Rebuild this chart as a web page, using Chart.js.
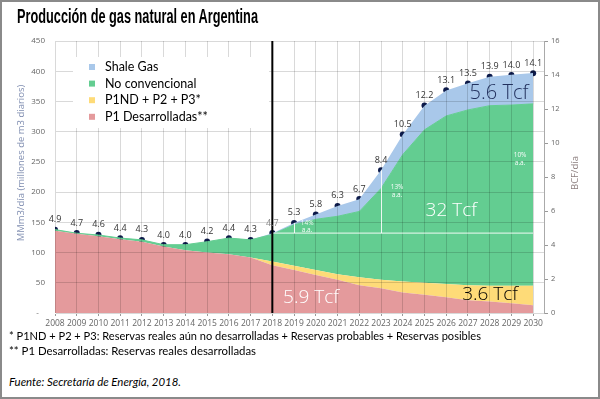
<!DOCTYPE html>
<html>
<head>
<meta charset="utf-8">
<script src="https://cdn.jsdelivr.net/npm/chart.js@4.4.0/dist/chart.umd.min.js"></script>
<style>
body{margin:0;background:#fff}
#pagina{position:relative;width:600px;height:399px;overflow:hidden;background:#fff}
#marco{position:absolute;left:0;top:0;width:600px;height:399px;box-sizing:border-box;border:2px solid #8a8a8a;pointer-events:none}
#titulo{position:absolute;left:17px;top:6px;font:bold 20px 'Liberation Sans', Arial, sans-serif;line-height:20px;white-space:nowrap;transform-origin:0 0;color:#000}
#grafico{position:absolute;left:0;top:0}
.nota{position:absolute;left:9px;font:11.5px Lato;line-height:14px;white-space:nowrap;transform-origin:0 0;color:#000}
</style>
</head>
<body>
<div id="pagina">
  <canvas id="grafico" width="600" height="335"></canvas>
  <div id="titulo" data-ancho="241">Producción de gas natural en Argentina</div>
  <div class="nota" style="top:329px" data-ancho="472">* P1ND + P2 + P3: Reservas reales aún no desarrolladas + Reservas probables + Reservas posibles</div>
  <div class="nota" style="top:344px" data-ancho="247">** P1 Desarrolladas: Reservas reales desarrolladas</div>
  <div class="nota" style="top:375px;font-style:italic" data-ancho="172">Fuente: Secretaría de Energía, 2018.</div>
  <div id="marco"></div>
</div>
<script>
const anios = [2008,2009,2010,2011,2012,2013,2014,2015,2016,2017,2018,2019,2020,2021,2022,2023,2024,2025,2026,2027,2028,2029,2030]
// MMm3/dia, apilados
const p1Desarrolladas = [136,131,127,122,118,110,104,100,97,92,79,71,63,55,46,41,34,30,26,21,19,16,13]
const p1ndP2P3 = [0,0,0,0,0,0,0,0,0,0,6,7,8,9,13,14,18,20,22,25,26,29,32]
const noConvencional = [2,1,2,2,3,3,9,18,27,29,45,68,84,96,109,151,210,253,278,290,298,299,301]
const shaleGas = [0,0,0,0,0,0,0,0,0,0,2,3,8,17,20,30,33,40,42,44,48,50,51]
// BCF/dia (puntos)
const totalBcf = [4.9,4.7,4.6,4.4,4.3,4.0,4.0,4.2,4.4,4.3,4.7,5.3,5.8,6.3,6.7,8.4,10.5,12.2,13.1,13.5,13.9,14.0,14.1]

const rojo = '#e49a9c'
const amarillo = '#fedb78'
const verde = '#63cd91'
const azul = '#a9c8ea'

const pares = arr => arr.map((v, i) => ({x: anios[i], y: v}))

const anotaciones = {
  id: 'anotaciones',
  afterDraw(chart) {
    const {ctx, chartArea: ca} = chart
    const x = chart.scales.x, y = chart.scales.y, y2 = chart.scales.y2
    ctx.save()

    // caja blanca de la leyenda
    ctx.fillStyle = '#fff'
    ctx.fillRect(73, 57, 196, 71)
    const items = chart.data.datasets.slice(0, 4).reverse()
    ctx.font = '12.5px Lato'
    ctx.textBaseline = 'middle'
    items.forEach((ds, i) => {
      const yc = 67 + i * 16.6
      ctx.fillStyle = ds.backgroundColor
      ctx.fillRect(89, yc - 3, 6, 6)
      ctx.fillStyle = '#000'
      ctx.fillText(ds.label, 105, yc)
    })

    // lineas blancas de referencia
    const i18 = anios.indexOf(2018)
    const base = y2.getPixelForValue(totalBcf[i18])
    ctx.strokeStyle = 'rgba(255,255,255,0.9)'
    ctx.lineWidth = 1
    ctx.beginPath()
    ctx.moveTo(x.getPixelForValue(2018), base)
    ctx.lineTo(x.getPixelForValue(2030), base)
    ;[2019, 2023].forEach(a => {
      const px = Math.round(x.getPixelForValue(a)) + 0.5
      ctx.moveTo(px, base)
      ctx.lineTo(px, y2.getPixelForValue(totalBcf[anios.indexOf(a)]))
    })
    ctx.stroke()

    // linea negra 2018
    const x18 = x.getPixelForValue(2018)
    ctx.strokeStyle = '#000'
    ctx.lineWidth = 2
    ctx.beginPath()
    ctx.moveTo(x18, ca.top)
    ctx.lineTo(x18, ca.bottom)
    ctx.stroke()

    // etiquetas de los puntos
    ctx.font = '9px "Open Sans"'
    ctx.textAlign = 'center'
    ctx.textBaseline = 'middle'
    totalBcf.forEach((v, i) => {
      ctx.fillStyle = anios[i] === 2018 ? '#8a8a8a' : '#333'
      ctx.fillText(v.toFixed(1), x.getPixelForValue(anios[i]), y2.getPixelForValue(v) - 10)
    })

    // textos Tcf
    const texto = (t, a, v, color, size, peso) => {
      ctx.font = (peso || 300) + ' ' + size + 'px "Open Sans"'
      ctx.fillStyle = color
      ctx.fillText(t, x.getPixelForValue(a), y.getPixelForValue(v))
    }
    texto('5.6 Tcf', 2028.43, 364, '#22315e', 20)
    texto('32 Tcf', 2026.23, 170, '#fff', 19)
    texto('3.6 Tcf', 2028.02, 31, '#000', 19)
    texto('5.9 Tcf', 2019.78, 25, '#fff', 19)
    const tasa = (t, a, v) => {
      texto(t, a, v, 'rgba(255,255,255,0.95)', 6.5, 400)
      texto('a.a.', a, v - 12.5, 'rgba(255,255,255,0.95)', 6.5, 400)
    }
    tasa('14%', 2019.6, 149)
    tasa('13%', 2023.74, 208)
    tasa('10%', 2029.4, 261)

    // titulos de ejes
    ctx.font = '9.5px "Open Sans"'
    ctx.fillStyle = '#7f8db0'
    ctx.translate(21, 163)
    ctx.rotate(-Math.PI / 2)
    ctx.fillText('MMm3/día (millones de m3 diarios)', 0, 0)
    ctx.setTransform(1, 0, 0, 1, 0, 0)
    ctx.fillStyle = '#8b7d7d'
    ctx.translate(575, 173)
    ctx.rotate(-Math.PI / 2)
    ctx.fillText('BCF/día', 0, 0)
    ctx.restore()
  }
}

const ctx = document.getElementById('grafico').getContext('2d')
const gris = 'rgba(0,0,0,0.15)'
const fuenteEje = {family: 'Open Sans', size: 8}

new Chart(ctx, {
  type: 'line',
  data: {
    datasets: [
      {label: 'P1 Desarrolladas**', data: pares(p1Desarrolladas), backgroundColor: rojo, borderWidth: 0, fill: 'origin', pointRadius: 0, yAxisID: 'y'},
      {label: 'P1ND + P2 + P3*', data: pares(p1ndP2P3), backgroundColor: amarillo, borderWidth: 0, fill: '-1', pointRadius: 0, yAxisID: 'y'},
      {label: 'No convencional', data: pares(noConvencional), backgroundColor: verde, borderColor: verde, borderWidth: 1, fill: '-1', pointRadius: 0, yAxisID: 'y'},
      {label: 'Shale Gas', data: pares(shaleGas), backgroundColor: azul, borderWidth: 0, fill: '-1', pointRadius: 0, yAxisID: 'y'},
      {label: 'Total', data: pares(totalBcf), yAxisID: 'y2', showLine: false, fill: false,
       pointRadius: 3, pointBackgroundColor: '#0d1b4c', pointBorderColor: '#0d1b4c', pointBorderWidth: 0}
    ]
  },
  options: {
    responsive: false,
    animation: false,
    events: [],
    layout: {padding: {top: 41, left: 0, right: 0, bottom: 0}},
    plugins: {legend: {display: false}, tooltip: {enabled: false}},
    scales: {
      x: {
        type: 'linear', min: 2008, max: 2030.5,
        ticks: {stepSize: 1, includeBounds: false, autoSkip: false, maxRotation: 0, padding: 2,
                callback: v => String(v), color: '#666', font: {family: 'Open Sans', size: 8.5}},
        grid: {color: gris, z: 1, tickLength: 3, tickColor: '#999'},
        border: {color: '#bbb'},
        afterFit: s => { s.height = 22 }
      },
      y: {
        stacked: true, min: 0, max: 450,
        ticks: {stepSize: 50, padding: 10, color: '#666', font: fuenteEje,
                callback: v => v === 0 ? '-   ' : v},
        grid: {color: gris, z: 1, drawTicks: false},
        border: {color: '#bbb'},
        afterFit: s => { s.width = 55 }
      },
      y2: {
        position: 'right', min: 0, max: 16,
        ticks: {stepSize: 2, padding: 3, color: '#666', font: {family: 'Open Sans', size: 7.5}},
        grid: {drawOnChartArea: false, tickLength: 4, tickColor: '#999'},
        border: {color: '#aaa'},
        afterFit: s => { s.width = 56 }
      }
    }
  },
  plugins: [anotaciones]
})

// ajustar ancho de los textos al original
document.querySelectorAll('[data-ancho]').forEach(el => {
  const w = el.getBoundingClientRect().width
  el.style.transform = 'scaleX(' + (Number(el.dataset.ancho) / w) + ')'
})
</script>
</body>
</html>
